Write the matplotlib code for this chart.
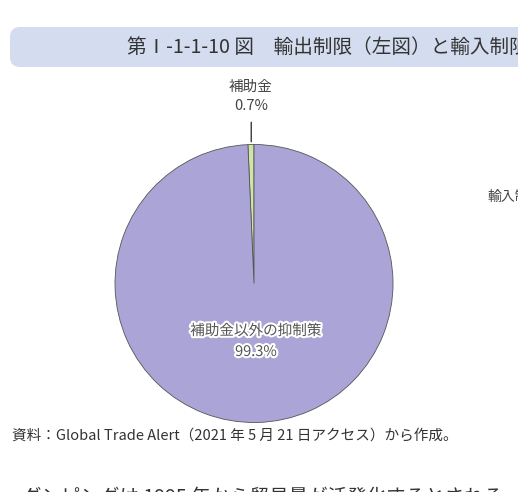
import matplotlib
matplotlib.use("Agg")
import matplotlib.pyplot as plt
from matplotlib.patches import FancyBboxPatch
import matplotlib.patheffects as pe

plt.rcParams['font.family'] = ['Noto Sans CJK JP', 'DejaVu Sans']

# ---- data ----
categories = ["補助金", "補助金以外の抑制策"]
shares = [0.7, 99.3]
colors = ["#CFE5A7", "#ABA4D6"]
title = "第Ⅰ-1-1-10 図　輸出制限（左図）と輸入制限（右図）の内訳"
source = "資料：Global Trade Alert（2021 年 5 月 21 日アクセス）から作成。"
right_label = "輸入制限"
body_text = "ダンピングは 1995 年から貿易量が活発化するとされる"

W, H = 518, 492
fig = plt.figure(figsize=(W / 100, H / 100), dpi=100)

def fx(x):
    return x / W

def fy(y):
    return 1 - y / H

# title banner
box = FancyBboxPatch((fx(10), fy(67)), fx(560) - fx(10), fy(27) - fy(67),
                     boxstyle="round,pad=0,rounding_size=0.02",
                     transform=fig.transFigure, facecolor="#D4DDEF",
                     edgecolor="none", zorder=0)
fig.patches.append(box)
fig.text(fx(127), fy(47), title, fontsize=14.1, color="#333333",
         ha="left", va="center")

# pie
cx, cy, r = 254, 283.5, 139
ax = fig.add_axes([fx(cx - r), fy(cy + r), (2 * r) / W, (2 * r) / H])
wedges, _ = ax.pie(shares, colors=colors, startangle=90, counterclock=True,
                   radius=1,
                   wedgeprops=dict(edgecolor="#555555", linewidth=0.6))
ax.set_xlim(-1, 1)
ax.set_ylim(-1, 1)
ax.set_aspect("auto")
ax.axis("off")

# leader line + outside label for small slice
ax.annotate("", xy=(-0.02, 1.0), xytext=(-0.02, 1.18),
            arrowprops=dict(arrowstyle="-", color="#222222", lw=0.9),
            annotation_clip=False)
fig.text(fx(251), fy(87), categories[0], fontsize=10.5, color="#444444",
         ha="center", va="center")
fig.text(fx(251), fy(106), f"{shares[0]}%", fontsize=10.5, color="#444444",
         ha="center", va="center")

# inside label with halo
halo = [pe.withStroke(linewidth=3, foreground="white")]
fig.text(fx(256), fy(331), categories[1], fontsize=10.5, color="#555555",
         ha="center", va="center", path_effects=halo)
fig.text(fx(256), fy(352), f"{shares[1]}%", fontsize=10.5, color="#555555",
         ha="center", va="center", path_effects=halo)

# right panel partial label
fig.text(fx(487), fy(197), right_label, fontsize=10, color="#444444",
         ha="left", va="center")

# source
fig.text(fx(12), fy(436), source, fontsize=10.5, color="#333333",
         ha="left", va="center")

# body text (cut at bottom)
fig.text(fx(22), fy(487), body_text, fontsize=14, color="#333333",
         ha="left", va="top")

fig.savefig("out.png", dpi=100, facecolor="white")
